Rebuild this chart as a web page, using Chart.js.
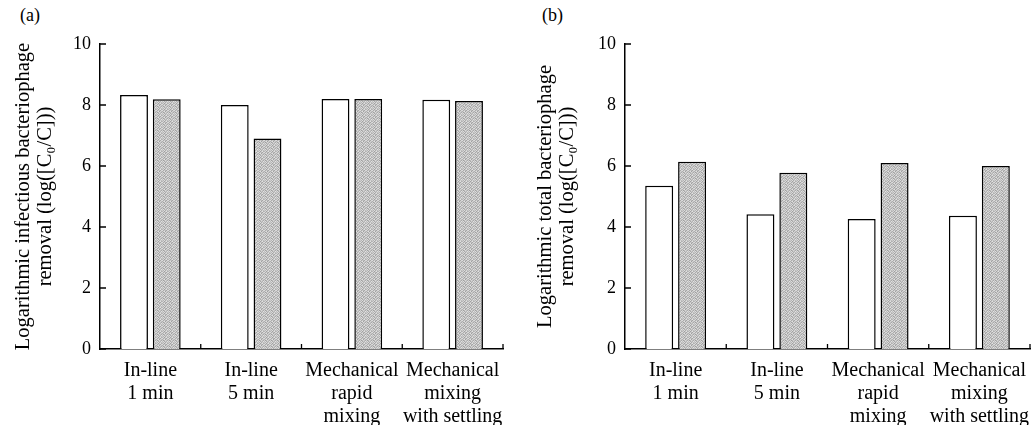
<!DOCTYPE html>
<html>
<head>
<meta charset="utf-8">
<script src="https://cdn.jsdelivr.net/npm/chart.js@4"></script>
<style>
	html, body { margin: 0; padding: 0; background: #fff; overflow: hidden; }
	body { width: 1031px; height: 425px; position: relative; }
	.panneau { position: absolute; top: 0; }
	.lettre { position: absolute; top: 5px; font-size: 18px; font-family: "Liberation Serif", "DejaVu Serif", serif; color: #000; }
</style>
</head>
<body>
<div class="lettre" style="left: 20px;">(a)</div>
<div class="lettre" style="left: 542px;">(b)</div>
<div class="panneau" style="left: 0; width: 515px; height: 425px;"><canvas id="graphique-a"></canvas></div>
<div class="panneau" style="left: 520px; width: 530px; height: 425px;"><canvas id="graphique-b"></canvas></div>
<script>
// Catégories (procédés de mélange)
const categories = [
	['In-line', '1 min'],
	['In-line', '5 min'],
	['Mechanical', 'rapid', 'mixing'],
	['Mechanical', 'mixing', 'with settling'],
];
const graduationsY = [0, 2, 4, 6, 8, 10];

// (a) élimination des bactériophages infectieux
const infectieuxBlanc = [8.33, 8.0, 8.2, 8.17];
const infectieuxGris = [8.19, 6.9, 8.2, 8.13];

// (b) élimination des bactériophages totaux
const totalBlanc = [5.35, 4.42, 4.26, 4.37];
const totalGris = [6.14, 5.78, 6.1, 6.0];

const police = '"Liberation Serif", "DejaVu Serif", serif';

// Motif gris pointillé (trame fixe)
function creerTrame() {
	const niveaux = [
		205, 180, 220, 170, 210, 190,
		185, 215, 160, 205, 225, 175,
		220, 170, 200, 185, 165, 215,
		175, 205, 225, 160, 210, 195,
		210, 160, 185, 215, 195, 170,
		190, 220, 170, 200, 180, 225,
	];
	const c = document.createElement('canvas');
	c.width = 6;
	c.height = 6;
	const cx = c.getContext('2d');
	for (let i = 0; i < niveaux.length; i++) {
		const n = niveaux[i];
		cx.fillStyle = `rgb(${n},${n},${n})`;
		cx.fillRect(i % 6, Math.floor(i / 6), 1, 1);
	}
	return cx.createPattern(c, 'repeat');
}
const trame = creerTrame();

// Petites graduations tournées vers l'intérieur
const graduationsInterieures = {
	id: 'graduationsInterieures',
	afterDatasetsDraw(chart) {
		const ctx = chart.ctx;
		const x = chart.scales.x;
		const y = chart.scales.y;
		ctx.save();
		ctx.strokeStyle = '#000';
		ctx.lineWidth = 1.3;
		ctx.beginPath();
		for (const v of graduationsY) {
			const py = y.getPixelForValue(v);
			ctx.moveTo(x.left, py);
			ctx.lineTo(x.left + 6, py);
		}
		for (let i = 0; i < categories.length; i++) {
			const px = i < categories.length - 1
				? (x.getPixelForValue(i) + x.getPixelForValue(i + 1)) / 2
				: x.right;
			ctx.moveTo(px, y.bottom);
			ctx.lineTo(px, y.bottom - 5);
		}
		ctx.stroke();
		ctx.restore();
	},
};

function creerGraphique(canvas, blanc, gris, titre, largeurY, droite, margeTitre) {
	const data = {
		labels: categories,
		datasets: [
			{
				data: blanc,
				backgroundColor: '#ffffff',
				borderColor: '#000',
				borderWidth: 1.5,
			},
			{
				data: gris,
				backgroundColor: trame,
				borderColor: '#000',
				borderWidth: 1.5,
			},
		],
	};
	const config = {
		type: 'bar',
		data: data,
		plugins: [graduationsInterieures],
		options: {
			responsive: true,
			maintainAspectRatio: false,
			animation: false,
			categoryPercentage: 0.65,
			barPercentage: 0.85,
			layout: { padding: { left: 0, top: 44, right: droite, bottom: 0 } },
			plugins: { legend: { display: false }, tooltip: { enabled: false } },
			scales: {
				x: {
					grid: { display: false, drawTicks: false },
					border: { color: '#000', width: 1.5 },
					ticks: {
						color: '#000',
						padding: 10,
						maxRotation: 0,
						autoSkip: false,
						font: { family: police, size: 20, lineHeight: 1.15 },
					},
					afterFit: (scale) => { scale.height = 76; },
				},
				y: {
					min: 0,
					max: 10,
					grid: { display: false, drawTicks: false },
					border: { color: '#000', width: 1.5 },
					ticks: {
						stepSize: 2,
						color: '#000',
						padding: 9,
						font: { family: police, size: 18 },
					},
					title: {
						display: true,
						text: titre,
						color: '#000',
						padding: { top: margeTitre, bottom: 0 },
						font: { family: police, size: 20.5, lineHeight: 1.1 },
					},
					afterFit: (scale) => { scale.width = largeurY; },
				},
			},
		},
	};
	return new Chart(canvas, config);
}

function dessiner() {
	creerGraphique(
		document.querySelector('#graphique-a'),
		infectieuxBlanc,
		infectieuxGris,
		['Logarithmic infectious bacteriophage', 'removal (log([C\u2080/C]))'],
		100,
		12,
		12
	);
	creerGraphique(
		document.querySelector('#graphique-b'),
		totalBlanc,
		totalGris,
		['Logarithmic total bacteriophage', 'removal (log([C\u2080/C]))'],
		105,
		20,
		14
	);
}

// Attendre que la police soit prête avant de dessiner
document.fonts.load('20px "Liberation Serif"').then(dessiner, dessiner);
</script>
</body>
</html>
